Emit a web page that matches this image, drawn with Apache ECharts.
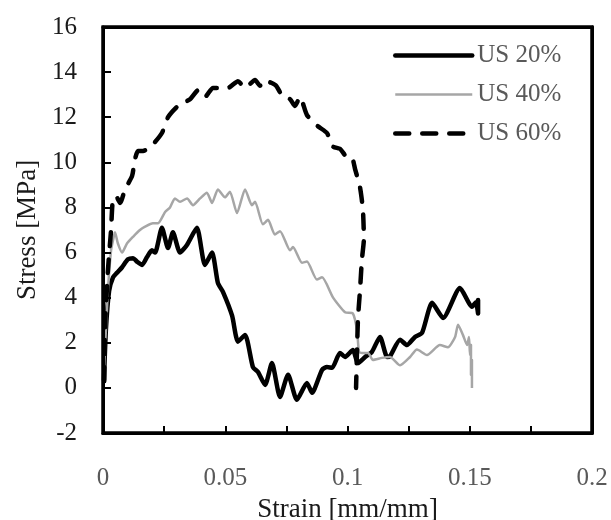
<!DOCTYPE html>
<html>
<head>
<meta charset="utf-8">
<script src="https://cdn.jsdelivr.net/npm/echarts@6/dist/echarts.min.js"></script>
<style>
  html, body { margin: 0; padding: 0; background: #fff; }
  #main { width: 611px; height: 520px; }
</style>
</head>
<body>
<div id="main"></div>
<script>
// series names
var seriesNames = ["US 20%", "US 40%", "US 60%"];

// US 20% (black solid)
var strain20 = [0.0004, 0.0012, 0.0025, 0.0041, 0.0057, 0.0078, 0.0102, 0.0123, 0.0139, 0.016, 0.018, 0.02, 0.0213, 0.0241, 0.0266, 0.0286, 0.0315, 0.0344, 0.0384, 0.0417, 0.0446, 0.047, 0.0491, 0.0528, 0.0552, 0.0581, 0.0613, 0.0634, 0.0663, 0.0691, 0.0724, 0.0757, 0.0793, 0.0834, 0.0855, 0.0896, 0.0916, 0.0937, 0.0969, 0.099, 0.1022, 0.1043, 0.1072, 0.11, 0.1133, 0.1162, 0.1174, 0.1215, 0.1243, 0.1276, 0.1305, 0.1346, 0.1391, 0.146, 0.1509, 0.1525, 0.1534, 0.1534, 0.153];
var stress20 = [0.35, 2.6, 4.3, 4.9, 5.1, 5.35, 5.7, 5.75, 5.6, 5.45, 5.8, 6.1, 6.0, 7.1, 6.2, 6.9, 6.0, 6.35, 7.1, 5.45, 6.0, 4.65, 4.25, 3.2, 2.05, 2.35, 0.93, 0.7, 0.13, 1.1, -0.4, 0.58, -0.53, 0.22, -0.22, 0.8, 0.93, 0.89, 1.55, 1.37, 1.68, 1.1, 1.37, 1.6, 2.26, 1.37, 1.4, 2.13, 1.9, 2.26, 2.44, 3.77, 3.1, 4.43, 3.6, 3.8, 3.3, 3.9, 3.6];

// US 40% (grey)
var strain40 = [0, 0.0008, 0.002, 0.0033, 0.0041, 0.0049, 0.0061, 0.0078, 0.0098, 0.0123, 0.0151, 0.0172, 0.0204, 0.0225, 0.0254, 0.0274, 0.0294, 0.0315, 0.0344, 0.0368, 0.0397, 0.0425, 0.0446, 0.047, 0.0499, 0.0519, 0.0548, 0.0581, 0.0609, 0.0622, 0.0654, 0.0675, 0.0703, 0.0724, 0.0765, 0.0777, 0.0814, 0.0834, 0.0875, 0.0896, 0.0941, 0.099, 0.1022, 0.1039, 0.1047, 0.1059, 0.1084, 0.1104, 0.1141, 0.1174, 0.1215, 0.1256, 0.1284, 0.1325, 0.1378, 0.1411, 0.144, 0.1452, 0.1472, 0.1489, 0.1497, 0.1501, 0.1505, 0.1505, 0.1509, 0.1509];
var stress40 = [0, 1.7, 4.3, 6.1, 6.55, 6.9, 6.4, 6.0, 6.4, 6.7, 7.0, 7.15, 7.3, 7.3, 7.8, 8.0, 8.4, 8.25, 8.4, 8.1, 8.4, 8.65, 8.2, 8.8, 8.45, 8.7, 7.75, 8.8, 8.1, 8.25, 7.25, 7.45, 6.8, 6.95, 6.1, 6.25, 5.55, 5.6, 4.8, 4.9, 4.0, 3.35, 3.3, 2.55, 1.6, 1.55, 1.55, 1.24, 1.33, 1.37, 1.0, 1.37, 1.7, 1.46, 1.9, 1.8, 2.26, 2.8, 2.35, 1.9, 2.26, 1.46, 1.9, 0.58, 1.24, 0.0];

// US 60% (black dashed)
var strain60 = [0.0005, 0.0008, 0.002, 0.0033, 0.004, 0.0053, 0.007, 0.009, 0.0119, 0.013, 0.0143, 0.0164, 0.0204, 0.0241, 0.0266, 0.0307, 0.0356, 0.0389, 0.0417, 0.045, 0.0511, 0.0552, 0.0581, 0.0622, 0.0642, 0.0663, 0.0683, 0.0708, 0.0736, 0.0765, 0.0785, 0.0806, 0.0834, 0.0879, 0.0916, 0.0941, 0.0969, 0.1002, 0.1018, 0.1031, 0.1051, 0.1063, 0.1067, 0.1059, 0.1051, 0.1043, 0.1039, 0.1035];
var stress60 = [0.3, 2.6, 5.2, 7.0, 8.3, 8.5, 8.2, 8.8, 9.4, 10.1, 10.5, 10.5, 10.8, 11.3, 12.0, 12.5, 12.8, 13.2, 12.9, 13.3, 13.3, 13.6, 13.3, 13.65, 13.4, 13.65, 13.55, 13.4, 12.9, 12.8, 12.5, 12.9, 12.1, 11.6, 11.3, 10.7, 10.6, 10.2, 10.2, 9.7, 8.9, 7.9, 6.6, 5.7, 4.3, 3.1, 1.7, 0];

// axis ticks
var xTickLabels = ["0", "0.05", "0.1", "0.15", "0.2"];
var yTicks = [-2, 0, 2, 4, 6, 8, 10, 12, 14, 16];

var FONT = "Liberation Serif";
var W = 611, H = 520;
var G = { left: 103, right: 19, top: 27, bottom: 87 };

function pairs(xs, ys) {
  return xs.map(function (x, i) { return [x, ys[i]]; });
}

var myChart = echarts.init(document.getElementById("main"));

// top / right frame axes
var frameAxis = {
  show: true,
  zlevel: 1,
  axisLine: { show: true, onZero: false, lineStyle: { color: "#000", width: 3 } },
  axisTick: { show: false },
  axisLabel: { show: false },
  splitLine: { show: false },
};

var option = {
  animation: false,
  grid: {
    left: G.left, right: G.right, top: G.top, bottom: G.bottom,
    show: true, borderColor: "#000", borderWidth: 3,
    outerBoundsMode: "none",
  },
  // plot frame, on its own layer
  graphic: [
    {
      type: "rect",
      zlevel: 1,
      z: 100,
      silent: true,
      shape: { x: G.left, y: G.top, width: W - G.left - G.right, height: H - G.top - G.bottom },
      style: { fill: "none", stroke: "#000", lineWidth: 3 },
    },
  ],
  legend: {
    data: [
      { name: seriesNames[0], lineStyle: { width: 4.5 } },
      { name: seriesNames[1], lineStyle: { width: 2.5 } },
      { name: seriesNames[2], lineStyle: { width: 4.5 } },
    ],
    orient: "vertical",
    left: 388,
    top: 38,
    itemWidth: 77,
    itemHeight: 14,
    itemGap: 14,
    itemStyle: { opacity: 0 },
    textStyle: { fontFamily: FONT, fontSize: 25, color: "#595959" },
  },
  xAxis: [
    {
      type: "value",
      zlevel: 1,
      min: 0,
      max: 0.2,
      interval: 0.025,
      name: "Strain [mm/mm]",
      nameLocation: "middle",
      nameGap: 63,
      nameTextStyle: { fontFamily: FONT, fontSize: 27, color: "#1a1a1a" },
      axisLine: { show: true, onZero: false, lineStyle: { color: "#000", width: 3 } },
      axisTick: { show: true, inside: true, length: 7, lineStyle: { color: "#000", width: 2 } },
      splitLine: { show: false },
      axisLabel: {
        margin: 33,
        fontFamily: FONT,
        fontSize: 25,
        color: "#595959",
        formatter: function (v) {
          var k = Math.round(v * 1000);
          if (k % 50 !== 0) return "";
          return xTickLabels[k / 50];
        },
      },
    },
    Object.assign({ type: "value", position: "top", min: 0, max: 0.2 }, frameAxis),
  ],
  yAxis: [
    {
      type: "value",
      zlevel: 1,
      min: yTicks[0],
      max: yTicks[yTicks.length - 1],
      interval: 2,
      name: "Stress [MPa]",
      nameLocation: "middle",
      nameGap: 62,
      nameTextStyle: { fontFamily: FONT, fontSize: 27, color: "#1a1a1a" },
      axisLine: { show: true, lineStyle: { color: "#000", width: 3 } },
      axisTick: { show: true, inside: true, length: 8, lineStyle: { color: "#000", width: 2 } },
      splitLine: { show: false },
      axisLabel: { margin: 26, fontFamily: FONT, fontSize: 25, color: "#1a1a1a" },
    },
    Object.assign({ type: "value", position: "right", min: yTicks[0], max: yTicks[yTicks.length - 1] }, frameAxis),
  ],
  series: [
    {
      name: seriesNames[0],
      type: "line",
      data: pairs(strain20, stress20),
      showSymbol: false,
      symbol: "none",
      smooth: 0.2,
      lineStyle: { color: "#000", width: 4.5, cap: "round", join: "round" },
      itemStyle: { color: "#000" },
    },
    {
      name: seriesNames[1],
      type: "line",
      data: pairs(strain40, stress40),
      showSymbol: false,
      symbol: "none",
      smooth: 0.2,
      lineStyle: { color: "#a6a6a6", width: 2.5, join: "round" },
      itemStyle: { color: "#a6a6a6" },
    },
    {
      name: seriesNames[2],
      type: "line",
      data: pairs(strain60, stress60),
      showSymbol: false,
      symbol: "none",
      smooth: 0.2,
      lineStyle: { color: "#000", width: 4.5, type: [14, 13], cap: "round", join: "round" },
      itemStyle: { color: "#000" },
    },
  ],
};

myChart.setOption(option);
</script>
</body>
</html>
